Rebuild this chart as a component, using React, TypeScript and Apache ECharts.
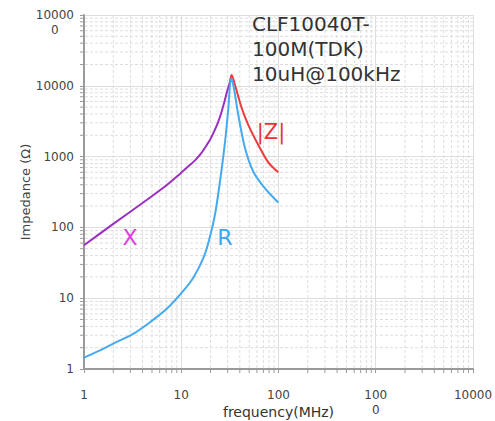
import React, { useEffect, useRef } from "react";
import * as echarts from "echarts";

// Reactance X (purple)
const freqX = [1, 2, 4.41, 7, 9.7, 12, 14, 16, 18.3, 20, 22.2, 24, 26, 28, 29.3, 31.7, 33.0];
const valX = [56, 112, 244, 390, 570, 740, 900, 1110, 1460, 1780, 2400, 3100, 4300, 6200, 7900, 11400, 14200];

// Impedance |Z| (red)
const freqZ = [31.7, 33.0, 35.7, 41.9, 49.0, 62.0, 78.5, 99.5];
const valZ = [11400, 14200, 10260, 4810, 2790, 1460, 830, 600];

// Resistance R (blue)
const freqR = [1, 1.48, 2.2, 3.27, 4.85, 7.19, 10.7, 13.5, 17.1, 19.3, 22.2, 25.0, 28.2, 30.5, 32.5, 34.3, 38.6, 45.3, 55.1, 72.6, 99.5];
const valR = [1.45, 1.85, 2.43, 3.19, 4.66, 7.2, 13.1, 20.1, 38.6, 66, 150, 442, 1620, 4810, 12700, 10260, 3870, 1310, 612, 357, 225];

// Axis ranges / ticks
const xMin = 1;
const xMax = 10000;
const yMin = 1;
const yMax = 100000;
const minorMultipliers = [2, 3, 4, 5, 6, 7, 8, 9];
const xDecades = [1, 10, 100, 1000];
const yDecades = [1, 10, 100, 1000, 10000];

const titleText = "CLF10040T-\n100M(TDK)\n10uH@100kHz";

const FONT = '"DejaVu Sans", Verdana, sans-serif';

export default function App() {
  const ref = useRef<HTMLDivElement>(null);
  useEffect(() => {
    document.body.style.margin = "0";
    const chart = echarts.init(ref.current!, null, { renderer: "svg" });
    const xMinor: number[] = [];
    xDecades.forEach((d) => minorMultipliers.forEach((m) => xMinor.push(d * m)));
    const yMinor: number[] = [];
    yDecades.forEach((d) => minorMultipliers.forEach((m) => yMinor.push(d * m)));

    const gridColor = "#dedede";
    const axisColor = "#9a9a9a";

    const option: any = {
      animation: false,
      backgroundColor: "#ffffff",
      grid: { left: 84, right: 22, top: 15, bottom: 52, containLabel: false, outerBoundsMode: "none" },
      xAxis: {
        type: "log",
        logBase: 10,
        min: xMin,
        max: xMax,
        name: "frequency(MHz)",
        nameLocation: "middle",
        nameGap: 36,
        nameMoveOverlap: false,
        nameTextStyle: { fontFamily: FONT, fontSize: 14, color: "#333" },
        axisLine: { show: true, lineStyle: { color: axisColor, width: 2 } },
        axisTick: { show: true, length: 4, lineStyle: { color: axisColor } },
        axisLabel: {
          margin: 18,
          fontFamily: FONT,
          fontSize: 12,
          color: "#444",
          lineHeight: 15,
          hideOverlap: false,
          formatter: (v: number) => {
            const r = Math.round(v);
            return r === 1000 ? "100\n0" : String(r);
          },
        },
        splitLine: { show: true, lineStyle: { color: gridColor, width: 1 } },
      },
      yAxis: {
        type: "log",
        logBase: 10,
        min: yMin,
        max: yMax,
        name: "Impedance (Ω)",
        nameLocation: "middle",
        nameGap: 52,
        nameMoveOverlap: false,
        nameTextStyle: { fontFamily: FONT, fontSize: 13, color: "#444" },
        axisLine: { show: true, lineStyle: { color: axisColor, width: 2 } },
        axisTick: { show: true, length: 4, lineStyle: { color: axisColor } },
        axisLabel: {
          margin: 10,
          fontFamily: FONT,
          fontSize: 12,
          color: "#444",
          hideOverlap: false,
          formatter: (v: number) => {
            const r = Math.round(v);
            return r === 100000 ? "{c| }\n{a|10000}\n{b|0}" : String(r);
          },
          rich: {
            a: { fontFamily: FONT, fontSize: 12, color: "#444", lineHeight: 15 },
            b: { fontFamily: FONT, fontSize: 12, color: "#444", lineHeight: 15, align: "center" },
            c: { fontFamily: FONT, fontSize: 12, color: "#444", lineHeight: 15 },
          },
        },
        splitLine: { show: true, lineStyle: { color: gridColor, width: 1 } },
      },
      graphic: [
        {
          type: "text",
          left: 252,
          top: 11,
          z: 10,
          style: { text: titleText, font: `20px ${FONT}`, fill: "#333", lineHeight: 25 },
        },
        {
          type: "text",
          x: 130,
          y: 237,
          z: 10,
          style: { text: "X", font: `22px ${FONT}`, fill: "#e03ce0", align: "center", verticalAlign: "middle" },
        },
        {
          type: "text",
          x: 225,
          y: 237,
          z: 10,
          style: { text: "R", font: `22px ${FONT}`, fill: "#3aa8ee", align: "center", verticalAlign: "middle" },
        },
        {
          type: "text",
          x: 271,
          y: 132,
          z: 10,
          style: { text: "|Z|", font: `21px ${FONT}`, fill: "#e83434", align: "center", verticalAlign: "middle" },
        },
      ],
      series: [
        {
          type: "custom",
          silent: true,
          clip: false,
          z: 1,
          data: xMinor.map((v) => [v, yMin]),
          encode: { x: 0, y: 1 },
          renderItem: (params: any, api: any) => {
            const v = api.value(0);
            const top = api.coord([v, yMax]);
            const bot = api.coord([v, yMin]);
            return {
              type: "group",
              children: [
                {
                  type: "line",
                  shape: { x1: top[0], y1: top[1], x2: bot[0], y2: bot[1] - 1 },
                  style: { stroke: gridColor, lineWidth: 1, lineDash: [3, 2] },
                },
                {
                  type: "line",
                  shape: { x1: bot[0], y1: bot[1], x2: bot[0], y2: bot[1] + 4 },
                  style: { stroke: axisColor, lineWidth: 1 },
                },
              ],
            };
          },
        },
        {
          type: "custom",
          silent: true,
          clip: false,
          z: 1,
          data: yMinor.map((v) => [xMin, v]),
          encode: { x: 0, y: 1 },
          renderItem: (params: any, api: any) => {
            const v = api.value(1);
            const l = api.coord([xMin, v]);
            const r = api.coord([xMax, v]);
            return {
              type: "group",
              children: [
                {
                  type: "line",
                  shape: { x1: l[0] + 1, y1: l[1], x2: r[0], y2: r[1] },
                  style: { stroke: gridColor, lineWidth: 1, lineDash: [3, 2] },
                },
                {
                  type: "line",
                  shape: { x1: l[0] - 4, y1: l[1], x2: l[0], y2: l[1] },
                  style: { stroke: axisColor, lineWidth: 1 },
                },
              ],
            };
          },
        },
        {
          name: "X",
          type: "line",
          z: 3,
          data: freqX.map((f, i) => [f, valX[i]]),
          showSymbol: false,
          smooth: 0.3,
          lineStyle: { color: "#9b2fc2", width: 2 },
        },
        {
          name: "|Z|",
          type: "line",
          z: 4,
          data: freqZ.map((f, i) => [f, valZ[i]]),
          showSymbol: false,
          smooth: 0.3,
          lineStyle: { color: "#ec3b3b", width: 2 },
        },
        {
          name: "R",
          type: "line",
          z: 5,
          data: freqR.map((f, i) => [f, valR[i]]),
          showSymbol: false,
          smooth: 0.3,
          lineStyle: { color: "#45aaf0", width: 2 },
        },
      ],
    };
    chart.setOption(option);
    return () => chart.dispose();
  }, []);
  return (
    <div
      ref={ref}
      style={{ position: "absolute", left: 0, top: 0, width: 495, height: 421, background: "#fff" }}
    />
  );
}
